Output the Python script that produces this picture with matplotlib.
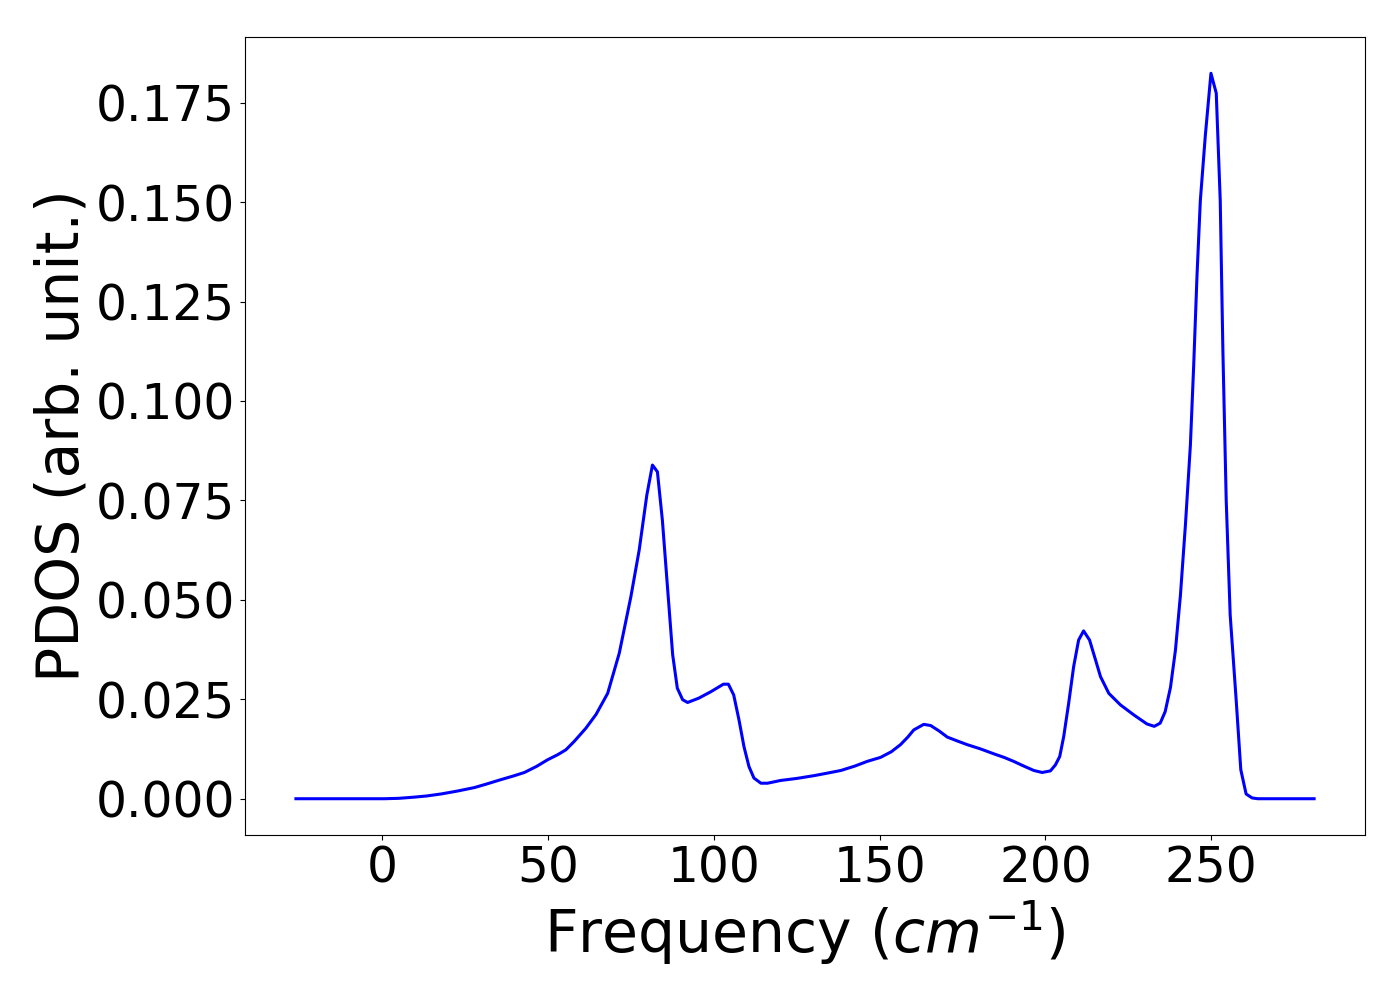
import matplotlib
matplotlib.use("Agg")
import matplotlib.pyplot as plt
from matplotlib.ticker import MultipleLocator

freq = [-26.0, -15.0, -5.0, 0.6, 5.0, 9.7, 13.5, 17.8, 22.5, 27.8, 31.5, 35.8, 39.5, 42.9,
        46.5, 49.9, 53.0, 55.4, 57.9, 61.4, 64.5, 68.0, 71.5, 75.0, 77.5, 79.8, 81.5, 83.0,
        84.5, 86.1, 87.6, 89.0, 90.6, 92.1, 95.5, 99.1, 102.9, 104.4, 106.0, 107.6, 109.1,
        110.6, 112.1, 114.2, 116.2, 120.2, 125.0, 130.2, 134.0, 138.3, 142.5, 146.3, 150.3,
        153.5, 156.3, 158.5, 160.3, 163.3, 165.4, 168.0, 170.4, 173.5, 176.4, 180.5, 184.4,
        187.5, 190.4, 193.5, 196.5, 199.0, 201.5, 203.0, 204.3, 205.5, 207.0, 208.5, 210.0,
        211.5, 213.3, 215.1, 216.6, 219.1, 222.6, 226.6, 230.6, 232.8, 234.6, 236.1, 237.7,
        239.2, 240.7, 242.2, 243.7, 244.7, 245.7, 246.7, 248.2, 249.9, 251.5, 252.7, 253.5,
        254.5, 255.7, 257.5, 258.9, 260.5, 262.3, 264.0, 270.0, 281.0]
pdos = [0.0, 0.0, 0.0, 0.0, 0.0001, 0.0004, 0.0007, 0.0012, 0.0019, 0.0028, 0.0037, 0.0048,
        0.0057, 0.0066, 0.0081, 0.0098, 0.0111, 0.0123, 0.0144, 0.0177, 0.0212, 0.0265,
        0.0366, 0.0508, 0.0625, 0.0763, 0.0839, 0.0822, 0.0700, 0.0525, 0.0362, 0.0278,
        0.0249, 0.0242, 0.0253, 0.0269, 0.0288, 0.0288, 0.0261, 0.0198, 0.0131, 0.0081,
        0.0052, 0.0039, 0.0039, 0.0046, 0.0051, 0.0058, 0.0064, 0.0071, 0.0082, 0.0094,
        0.0104, 0.0118, 0.0136, 0.0155, 0.0173, 0.0187, 0.0184, 0.0170, 0.0155, 0.0145,
        0.0136, 0.0125, 0.0113, 0.0104, 0.0094, 0.0082, 0.0071, 0.0066, 0.0070, 0.0085,
        0.0106, 0.0156, 0.0240, 0.0332, 0.0399, 0.0422, 0.0399, 0.0349, 0.0307, 0.0265,
        0.0236, 0.0211, 0.0188, 0.0182, 0.0190, 0.0219, 0.0280, 0.0374, 0.0512, 0.0688,
        0.0889, 0.1090, 0.1316, 0.1504, 0.1667, 0.1824, 0.1774, 0.1504, 0.1127, 0.0751,
        0.0462, 0.0249, 0.0073, 0.0012, 0.0002, 0.0, 0.0, 0.0]

fig = plt.figure(figsize=(14, 10), dpi=100)
ax = fig.add_axes([0.175, 0.165, 0.80, 0.798])
ax.plot(freq, pdos, color="blue", linewidth=2.2)
ax.yaxis.set_major_locator(MultipleLocator(0.025))
ax.set_xlabel("Frequency ($cm^{-1}$)", fontsize=42)
ax.set_ylabel("PDOS (arb. unit.)", fontsize=42)
ax.tick_params(axis="both", labelsize=35)
fig.savefig("out.png", dpi=100)
